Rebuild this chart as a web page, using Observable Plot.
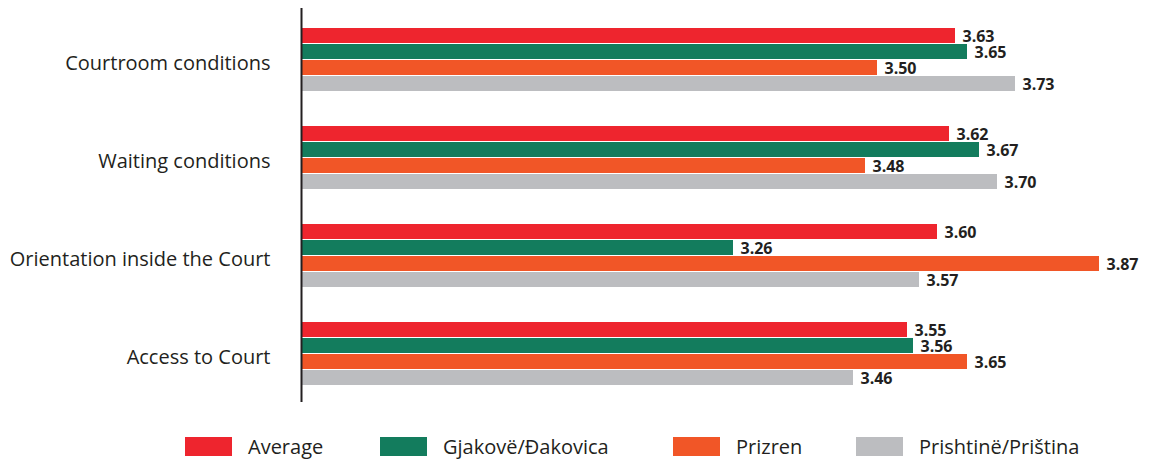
<!DOCTYPE html>
<html>
<head>
<meta charset="utf-8">
<script src="https://cdn.jsdelivr.net/npm/d3@7"></script>
<script src="https://cdn.jsdelivr.net/npm/@observablehq/plot@0.6"></script>
<style>
  html, body { margin: 0; padding: 0; background: #fff; }
  #chart { width: 1159px; height: 461px; position: relative; overflow: hidden; font-family: "Open Sans", sans-serif; }
  .legend { position: relative; height: 50px; }
  .item { position: absolute; top: 26px; display: flex; align-items: center; height: 19px; }
  .sw { width: 47px; height: 19px; }
  .lab { margin-left: 16px; font-size: 20px; color: #231f20; line-height: 19px; }
</style>
</head>
<body>
<div id="chart"></div>
<script>
const categories = ["Courtroom conditions", "Waiting conditions", "Orientation inside the Court", "Access to Court"];
const series = ["Average", "Gjakovë/Đakovica", "Prizren", "Prishtinë/Priština"];
const colors = ["#ee252e", "#137c5d", "#f15627", "#bcbdc0"];
// values[series][category]
const average   = [3.63, 3.62, 3.60, 3.55];
const gjakova   = [3.65, 3.67, 3.26, 3.56];
const prizren   = [3.50, 3.48, 3.87, 3.65];
const prishtina = [3.73, 3.70, 3.57, 3.46];
const seriesValues = [average, gjakova, prizren, prishtina];

const data = [];
series.forEach((s, i) => categories.forEach((c, j) => data.push({series: s, si: i, category: c, value: seriesValues[i][j]})));

const W = 1159, H = 411;
const bandTop = 28, bandBottom = 386;
const barH = 15, barStep = 16;
const bandwidth = 64;
const xMin = 2.54;

const marks = [];
series.forEach((s, i) => {
  const d = data.filter(r => r.si === i);
  marks.push(Plot.barX(d, {
    x1: xMin, x2: "value", y: "category", fill: colors[i],
    insetTop: i * barStep, insetBottom: bandwidth - i * barStep - barH
  }));
  marks.push(Plot.text(d, {
    x: "value", y: "category", text: r => r.value.toFixed(2),
    dx: 7, dy: i * barStep + barH / 2 - bandwidth / 2 + 0.5,
    textAnchor: "start", fontWeight: "bold", fontSize: 16, fill: "#231f20"
  }));
});
marks.push(Plot.ruleX([xMin], {stroke: "#231f20", strokeWidth: 2}));

const plot = Plot.plot({
  width: W, height: H,
  marginLeft: 301, marginRight: 0, marginTop: 8, marginBottom: 9,
  style: {fontFamily: "Open Sans, sans-serif", background: "#fff"},
  x: {domain: [xMin, 3.97], axis: null},
  y: {domain: categories, range: [bandTop, bandBottom], paddingInner: 1 - 64 / 98, paddingOuter: 0, label: null},
  marks: [
    Plot.axisY({tickSize: 0, tickPadding: 31, fontSize: 20, fill: "#231f20", label: null, dy: 3}),
    ...marks
  ]
});
const chart = document.getElementById("chart");
chart.appendChild(plot);

const legendX = [185, 380, 673, 856];
const legend = document.createElement("div");
legend.className = "legend";
series.forEach((s, i) => {
  const it = document.createElement("div");
  it.className = "item";
  it.style.left = legendX[i] + "px";
  const sw = document.createElement("div");
  sw.className = "sw"; sw.style.background = colors[i];
  const lb = document.createElement("span");
  lb.className = "lab"; lb.textContent = s;
  it.appendChild(sw); it.appendChild(lb);
  legend.appendChild(it);
});
chart.appendChild(legend);
</script>
</body>
</html>
